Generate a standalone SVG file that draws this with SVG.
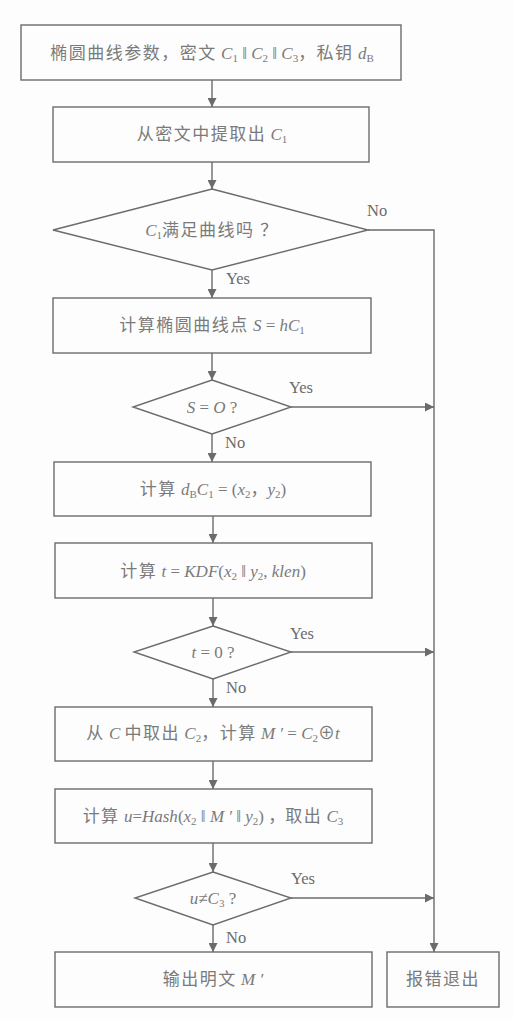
<svg xmlns="http://www.w3.org/2000/svg" width="513" height="1021" viewBox="0 0 513 1021">
  <style>
    .shape { fill: none; stroke: #6b6b6b; stroke-width: 1.4; }
    .wire { fill: none; stroke: #6b6b6b; stroke-width: 1.4; }
    .t { font-family: "Liberation Serif", "Noto Sans CJK SC", serif; font-size: 17px; fill: #7a7a7a; text-anchor: middle; }
    .cjk { letter-spacing: 1.5px; }
    .v { font-style: italic; }
    .lbl { font-family: "Liberation Serif", serif; font-size: 16.5px; fill: #6b6b6b; }
  </style>
  <defs>
    <marker id="arrow" viewBox="0 0 10 10" refX="10" refY="5" markerWidth="9" markerHeight="9" markerUnits="userSpaceOnUse" orient="auto">
      <path d="M0,0 L10,5 L0,10 Z" fill="#6b6b6b"/>
    </marker>
  </defs>
  <rect width="513" height="1021" fill="#fdfdfd"/>

  <g id="connectors">
    <line class="wire" x1="212" y1="80" x2="212" y2="107" marker-end="url(#arrow)"/>
    <line class="wire" x1="212" y1="162" x2="212" y2="189" marker-end="url(#arrow)"/>
    <line class="wire" x1="212" y1="270" x2="212" y2="298" marker-end="url(#arrow)"/>
    <line class="wire" x1="212" y1="353" x2="212" y2="380" marker-end="url(#arrow)"/>
    <line class="wire" x1="212" y1="434" x2="212" y2="462" marker-end="url(#arrow)"/>
    <line class="wire" x1="213" y1="516" x2="213" y2="543" marker-end="url(#arrow)"/>
    <line class="wire" x1="213" y1="598" x2="213" y2="626" marker-end="url(#arrow)"/>
    <line class="wire" x1="213" y1="679" x2="213" y2="707" marker-end="url(#arrow)"/>
    <line class="wire" x1="213" y1="761" x2="213" y2="789" marker-end="url(#arrow)"/>
    <line class="wire" x1="213" y1="843" x2="213" y2="872" marker-end="url(#arrow)"/>
    <line class="wire" x1="213" y1="925" x2="213" y2="952" marker-end="url(#arrow)"/>
    <polyline class="wire" points="368,230 434,230 434,952" marker-end="url(#arrow)"/>
    <line class="wire" x1="291" y1="407" x2="434" y2="407" marker-end="url(#arrow)"/>
    <line class="wire" x1="291" y1="652" x2="434" y2="652" marker-end="url(#arrow)"/>
    <line class="wire" x1="291" y1="898" x2="434" y2="898" marker-end="url(#arrow)"/>
    <text class="lbl" x="367" y="216">No</text>
    <text class="lbl" x="226" y="284">Yes</text>
    <text class="lbl" x="289" y="393">Yes</text>
    <text class="lbl" x="225" y="448">No</text>
    <text class="lbl" x="290" y="639">Yes</text>
    <text class="lbl" x="226" y="693">No</text>
    <text class="lbl" x="291" y="884">Yes</text>
    <text class="lbl" x="226" y="943">No</text>
  </g>

  <g id="input">
    <rect class="shape" x="21" y="25" width="380" height="55"/>
    <text class="t" x="212" y="59"><tspan class="cjk">椭圆曲线参数，密文</tspan> <tspan class="v">C</tspan><tspan font-size="11" dy="3">1</tspan><tspan dy="-3"> ‖ </tspan><tspan class="v">C</tspan><tspan font-size="11" dy="3">2</tspan><tspan dy="-3"> ‖ </tspan><tspan class="v">C</tspan><tspan font-size="11" dy="3">3</tspan><tspan dy="-3" class="cjk">，私钥</tspan> <tspan class="v">d</tspan><tspan font-size="11" dy="3">B</tspan></text>
  </g>

  <g id="extract-c1">
    <rect class="shape" x="53" y="107" width="316" height="55"/>
    <text class="t" x="212" y="140"><tspan class="cjk">从密文中提取出</tspan> <tspan class="v">C</tspan><tspan font-size="11" dy="3">1</tspan></text>
  </g>

  <g id="check-curve">
    <polygon class="shape" points="212,189 368,230 212,270 53,230"/>
    <text class="t" x="212" y="236"><tspan class="v">C</tspan><tspan font-size="11" dy="3">1</tspan><tspan dy="-3" class="cjk">满足曲线吗 ？</tspan></text>
  </g>

  <g id="compute-s">
    <rect class="shape" x="53" y="298" width="318" height="55"/>
    <text class="t" x="212" y="331"><tspan class="cjk">计算椭圆曲线点</tspan> <tspan class="v">S</tspan> = <tspan class="v">hC</tspan><tspan font-size="11" dy="3">1</tspan></text>
  </g>

  <g id="check-s">
    <polygon class="shape" points="212,380 291,407 212,434 133,407"/>
    <text class="t" x="212" y="413"><tspan class="v">S</tspan> = <tspan class="v">O</tspan> ?</text>
  </g>

  <g id="compute-point">
    <rect class="shape" x="54" y="462" width="317" height="54"/>
    <text class="t" x="213" y="495"><tspan class="cjk">计算</tspan> <tspan class="v">d</tspan><tspan font-size="11" dy="3">B</tspan><tspan class="v" dy="-3">C</tspan><tspan font-size="11" dy="3">1</tspan><tspan dy="-3"> = (</tspan><tspan class="v">x</tspan><tspan font-size="11" dy="3">2</tspan><tspan dy="-3">，</tspan><tspan class="v">y</tspan><tspan font-size="11" dy="3">2</tspan><tspan dy="-3">)</tspan></text>
  </g>

  <g id="compute-t">
    <rect class="shape" x="55" y="543" width="317" height="55"/>
    <text class="t" x="213" y="577"><tspan class="cjk">计算</tspan> <tspan class="v">t</tspan> = <tspan class="v">KDF</tspan>(<tspan class="v">x</tspan><tspan font-size="11" dy="3">2</tspan><tspan dy="-3"> ‖ </tspan><tspan class="v">y</tspan><tspan font-size="11" dy="3">2</tspan><tspan dy="-3">, </tspan><tspan class="v">klen</tspan>)</text>
  </g>

  <g id="check-t">
    <polygon class="shape" points="213,626 291,652 213,679 134,652"/>
    <text class="t" x="213" y="658"><tspan class="v">t</tspan> = 0 ?</text>
  </g>

  <g id="compute-m">
    <rect class="shape" x="55" y="707" width="317" height="54"/>
    <text class="t" x="213" y="739"><tspan class="cjk">从</tspan> <tspan class="v">C</tspan> <tspan class="cjk">中取出</tspan> <tspan class="v">C</tspan><tspan font-size="11" dy="3">2</tspan><tspan dy="-3" class="cjk">，计算</tspan> <tspan class="v">M ′</tspan> = <tspan class="v">C</tspan><tspan font-size="11" dy="3">2</tspan><tspan dy="-3">⊕</tspan><tspan class="v">t</tspan></text>
  </g>

  <g id="compute-u">
    <rect class="shape" x="55" y="789" width="317" height="54"/>
    <text class="t" x="213" y="822"><tspan class="cjk">计算</tspan> <tspan class="v">u</tspan>=<tspan class="v">Hash</tspan>(<tspan class="v">x</tspan><tspan font-size="11" dy="3">2</tspan><tspan dy="-3"> ‖ </tspan><tspan class="v">M ′</tspan> ‖ <tspan class="v">y</tspan><tspan font-size="11" dy="3">2</tspan><tspan dy="-3">) ，</tspan><tspan class="cjk">取出</tspan> <tspan class="v">C</tspan><tspan font-size="11" dy="3">3</tspan></text>
  </g>

  <g id="check-u">
    <polygon class="shape" points="213,872 291,898 213,925 135,898"/>
    <text class="t" x="213" y="904"><tspan class="v">u</tspan>≠<tspan class="v">C</tspan><tspan font-size="11" dy="3">3</tspan><tspan dy="-3"> ?</tspan></text>
  </g>

  <g id="output">
    <rect class="shape" x="55" y="952" width="317" height="55"/>
    <text class="t" x="213" y="985"><tspan class="cjk">输出明文</tspan> <tspan class="v">M ′</tspan></text>
  </g>

  <g id="error-exit">
    <rect class="shape" x="387" y="952" width="112" height="55"/>
    <text class="t" x="443" y="985"><tspan class="cjk">报错退出</tspan></text>
  </g>
</svg>
